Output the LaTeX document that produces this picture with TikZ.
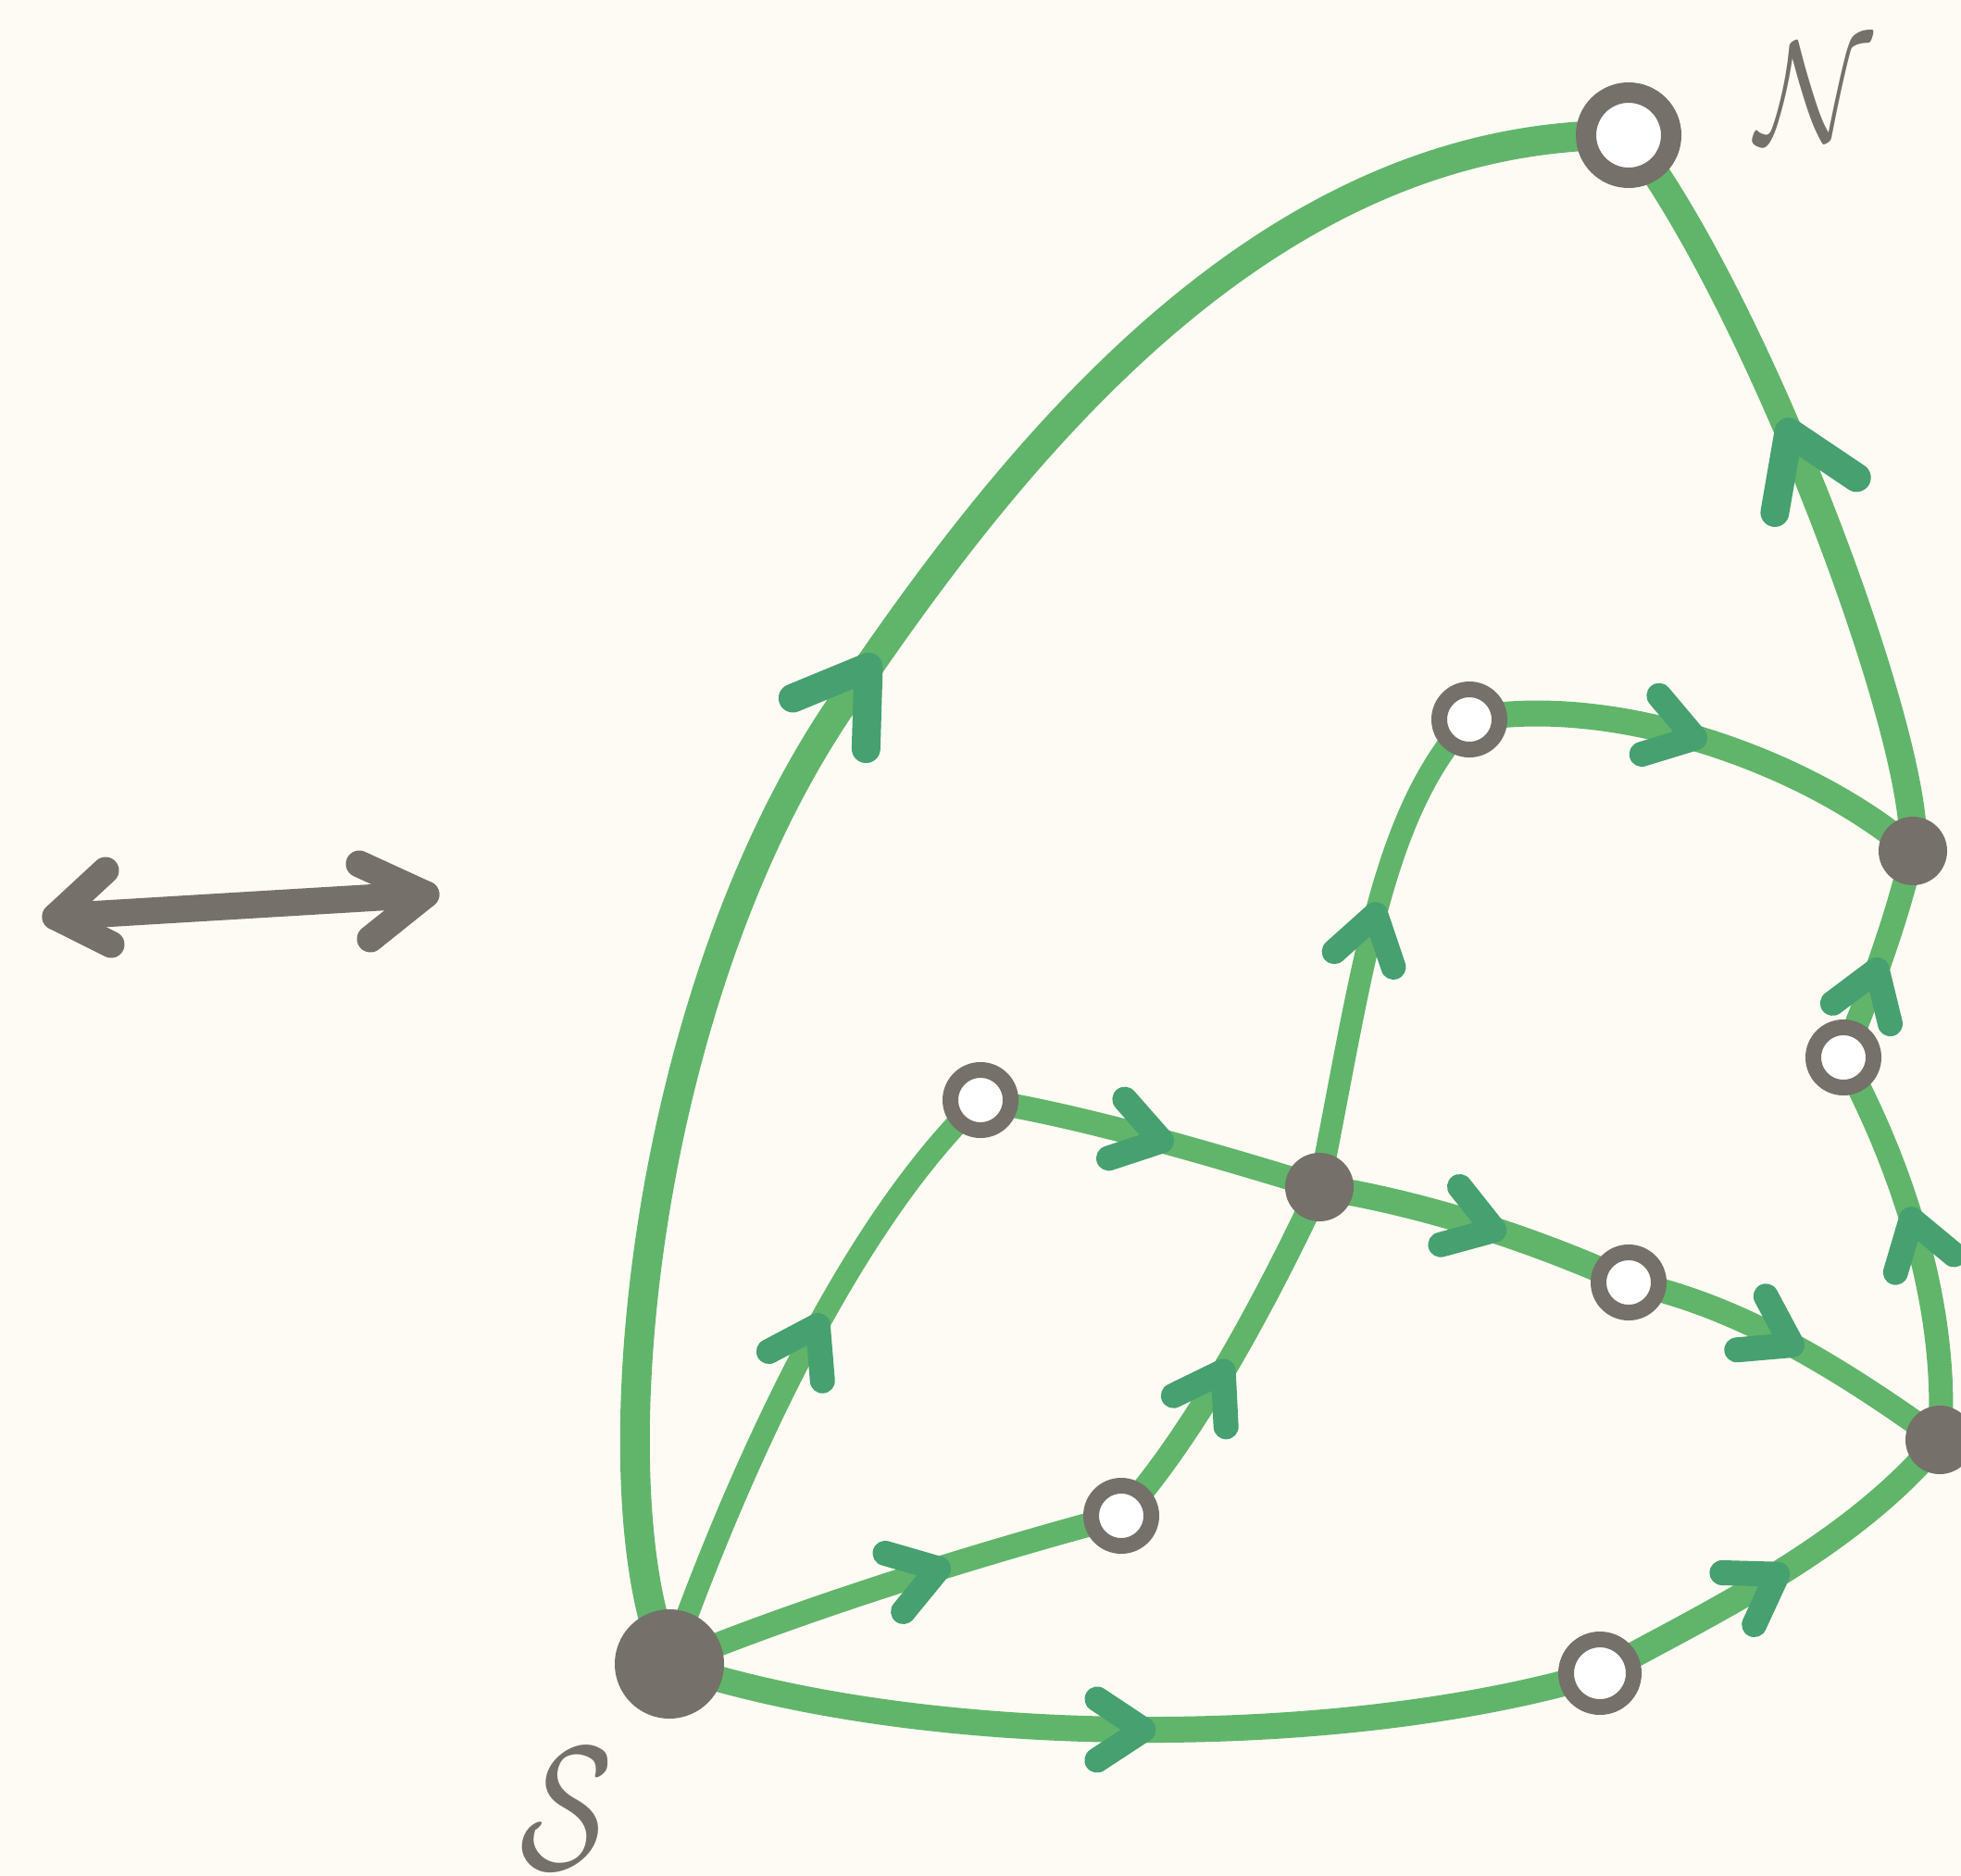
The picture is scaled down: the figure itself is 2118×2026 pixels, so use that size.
\documentclass[tikz,border=0pt]{standalone}
\usetikzlibrary{decorations.markings}
\definecolor{bgc}{HTML}{FEFBF5}
\definecolor{edgec}{HTML}{61B56A}
\definecolor{arrc}{HTML}{47A06F}
\definecolor{nodec}{HTML}{757069}
\pgfdeclarelayer{bgl}\pgfdeclarelayer{edgel}\pgfsetlayers{bgl,edgel,main}
\tikzset{
  filled/.style={circle, fill=nodec, inner sep=0pt, minimum size=74pt},
  hollow/.style={circle, draw=nodec, fill=white, line width=17pt, inner sep=0pt, minimum size=65pt},
  edge/.style={draw=edgec, line width=26pt, line cap=round, line join=round},
  arrowat/.style={postaction={decorate, decoration={markings, mark=at position #1 with {\draw[arrc, line width=27pt, line cap=round, line join=round] (-50,33) -- (0,0) -- (-50,-33);}}}},
  bigarrowat/.style={postaction={decorate, decoration={markings, mark=at position #1 with {\draw[arrc, line width=31pt, line cap=round, line join=round] (-74,48) -- (0,0) -- (-74,-48);}}}},
  grayline/.style={draw=nodec, line width=29pt, line cap=round, line join=round},
  lbl/.style={text=nodec, inner sep=0pt}
}
\begin{document}
\begin{tikzpicture}[x=1pt,y=-1pt]
\begin{pgfonlayer}{bgl}
\fill[bgc] (0,0) rectangle (2118,2026);
\end{pgfonlayer}
\useasboundingbox (0,0) rectangle (2118,2026);
% nodes
\node[filled, minimum size=118pt] (S) at (723,1797) {};
\node[hollow, line width=22pt, minimum size=92pt] (N) at (1759,146) {};
\node[hollow] (h1) at (1587,777) {};
\node[filled] (f1) at (2066,919) {};
\node[hollow] (h2) at (1991,1142) {};
\node[hollow] (h3) at (1059,1188) {};
\node[filled] (f2) at (1425,1282) {};
\node[hollow] (h4) at (1759,1385) {};
\node[filled] (f3) at (2095,1555) {};
\node[hollow] (h5) at (1211,1637) {};
\node[hollow, minimum size=73pt] (h6) at (1728,1807) {};
% labels
\node[lbl, scale=19, xscale=0.78] (Slabel) at (612,1954) {$\mathcal{S}$};
\node[lbl, scale=15.5, xscale=0.84] (Nlabel) at (1959,100) {$\mathcal{N}$};
% edges
\begin{pgfonlayer}{edgel}
\draw[edge, line width=32pt, bigarrowat=0.52] (S.center) .. controls (640,1620) and (690,1050) .. (932,729) .. controls (1110,470) and (1380,140) .. (N.center);
\draw[edge, line width=30pt, bigarrowat=0.565] (f1.center) .. controls (2075,800) and (1900,330) .. (N.center);
\draw[edge, line width=28pt, arrowat=0.48] (h1.center) .. controls (1740,748) and (1950,820) .. (f1.center);
\draw[edge, arrowat=0.43] (h2.center) .. controls (2022,1065) and (2048,995) .. (f1.center);
\draw[edge, arrowat=0.56] (f3.center) .. controls (2105,1420) and (2060,1270) .. (h2.center);
\draw[edge, arrowat=0.50] (h4.center) .. controls (1880,1410) and (1990,1480) .. (f3.center);
\draw[edge, line width=28pt, arrowat=0.555] (f2.center) .. controls (1540,1300) and (1660,1340) .. (h4.center);
\draw[edge, arrowat=0.53] (h3.center) .. controls (1170,1205) and (1320,1250) .. (f2.center);
\draw[edge, line width=24pt, arrowat=0.56] (f2.center) .. controls (1470,1060) and (1490,880) .. (h1.center);
\draw[edge, line width=24pt, arrowat=0.57] (S.center) .. controls (800,1580) and (920,1320) .. (h3.center);
\draw[edge, arrowat=0.46] (h5.center) .. controls (1290,1550) and (1370,1400) .. (f2.center);
\draw[edge, arrowat=0.60] (S.center) .. controls (860,1740) and (1050,1680) .. (h5.center);
\draw[edge, line width=28pt, arrowat=0.51] (S.center) .. controls (1000,1890) and (1450,1890) .. (h6.center);
\draw[edge, line width=28pt, arrowat=0.49] (h6.center) .. controls (1850,1740) and (2000,1670) .. (f3.center);
\end{pgfonlayer}
% double arrow
\coordinate (dl) at (60,990);
\coordinate (dr) at (460,966);
\draw[grayline] (dl) -- (dr);
\draw[grayline] (114,940) -- (dl) -- (120,1020);
\draw[grayline] (388,933) -- (dr) -- (400,1014);
\end{tikzpicture}
\end{document}
